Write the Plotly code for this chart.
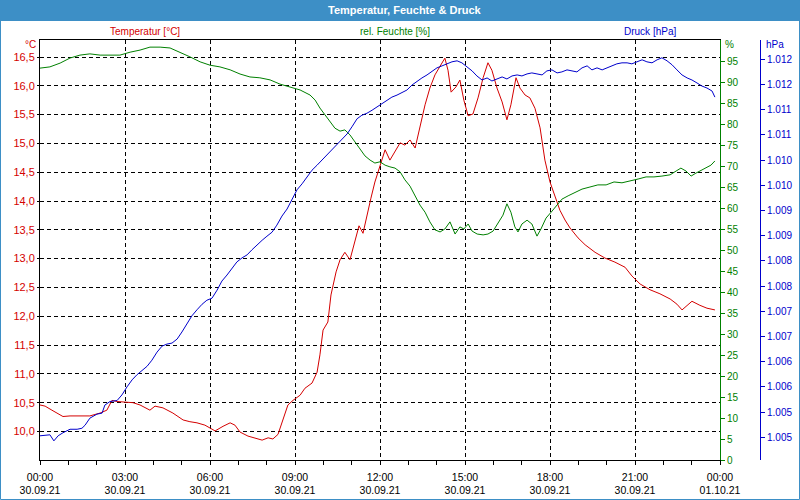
import plotly.graph_objects as go

# ---------------- data ----------------
# time in hours since 30.09.21 00:00
temp_t = [0, 0.18, 0.42, 0.64, 0.81, 1.06, 1.41, 1.76, 2.12, 2.36, 2.54, 2.72, 3.0, 3.28, 3.53, 3.78, 3.88,
          4.06, 4.34, 4.69, 5.05, 5.29, 5.54, 5.82, 6.0, 6.18, 6.46, 6.71, 6.88, 7.06, 7.34, 7.59, 7.84,
          8.05, 8.22, 8.40, 8.58, 8.75, 8.93, 9.18, 9.35, 9.60, 9.78, 9.88, 9.99, 10.16, 10.27, 10.45,
          10.59, 10.76, 10.94, 11.12, 11.26, 11.40, 11.54, 11.68, 11.82, 12.0, 12.18, 12.35, 12.53, 12.71,
          12.88, 13.06, 13.24, 13.41, 13.59, 13.76, 13.94, 14.12, 14.29, 14.40, 14.51, 14.68, 14.82, 14.96,
          15.11, 15.28, 15.46, 15.64, 15.81, 15.95, 16.13, 16.31, 16.48, 16.62, 16.80, 16.94, 17.12, 17.29,
          17.47, 17.65, 17.82, 18.0, 18.18, 18.35, 18.53, 18.71, 18.99, 19.24, 19.59, 19.94, 20.29, 20.65,
          20.89, 21.18, 21.53, 21.88, 22.24, 22.48, 22.66, 22.84, 23.01, 23.29, 23.54, 23.82]
temp_v = [10.46, 10.44, 10.37, 10.30, 10.26, 10.27, 10.27, 10.27, 10.32, 10.37, 10.54, 10.52, 10.51, 10.50,
          10.46, 10.39, 10.37, 10.44, 10.41, 10.32, 10.20, 10.17, 10.15, 10.11, 10.06, 10.01, 10.09, 10.15,
          10.11, 9.99, 9.92, 9.89, 9.85, 9.89, 9.87, 9.95, 10.20, 10.46, 10.54, 10.63, 10.75, 10.84, 11.03,
          11.33, 11.76, 11.90, 12.37, 12.77, 12.98, 13.11, 12.98, 13.32, 13.57, 13.44, 13.76, 14.05, 14.33,
          14.62, 14.89, 14.71, 14.85, 15.01, 14.97, 15.06, 14.92, 15.27, 15.67, 15.96, 16.19, 16.34, 16.48,
          16.27, 15.89, 15.98, 16.10, 15.75, 15.48, 15.51, 15.79, 16.14, 16.40, 16.27, 15.96, 15.72, 15.41,
          15.67, 16.14, 15.96, 15.84, 15.79, 15.61, 15.27, 14.71, 14.33, 14.07, 13.84, 13.67, 13.53, 13.36,
          13.24, 13.11, 13.01, 12.94, 12.85, 12.70, 12.56, 12.46, 12.39, 12.30, 12.21, 12.11, 12.19, 12.26,
          12.19, 12.14, 12.11]

hum_t = [0, 0.35, 0.71, 1.06, 1.41, 1.76, 2.12, 2.47, 2.82, 3.18, 3.53, 3.88, 4.24, 4.59, 4.94, 5.29, 5.65,
         6.0, 6.35, 6.71, 7.06, 7.41, 7.76, 8.12, 8.47, 8.82, 9.18, 9.53, 9.71, 9.88, 10.06, 10.24, 10.41,
         10.59, 10.76, 10.94, 11.12, 11.29, 11.47, 11.65, 11.82, 12.0, 12.18, 12.35, 12.53, 12.71, 12.88,
         13.06, 13.24, 13.41, 13.59, 13.76, 13.94, 14.12, 14.29, 14.47, 14.65, 14.82, 14.96, 15.11, 15.25,
         15.43, 15.64, 15.81, 15.99, 16.16, 16.34, 16.48, 16.62, 16.76, 16.87, 17.01, 17.19, 17.36, 17.54,
         17.68, 17.86, 18.04, 18.21, 18.42, 18.64, 18.88, 19.13, 19.41, 19.69, 19.98, 20.26, 20.54, 20.82,
         21.11, 21.39, 21.67, 21.95, 22.24, 22.45, 22.62, 22.80, 22.98, 23.15, 23.33, 23.51, 23.68, 23.82]
hum_v = [93.3, 93.6, 94.5, 95.7, 96.4, 96.7, 96.4, 96.4, 96.4, 97.1, 97.6, 98.3, 98.3, 98.1, 97.1, 96.0,
         94.8, 94.0, 93.6, 92.9, 91.9, 91.2, 91.0, 90.5, 89.5, 88.8, 88.1, 86.9, 85.7, 83.8, 82.1, 80.5,
         79.0, 78.3, 78.6, 77.4, 75.7, 73.8, 72.4, 71.4, 70.7, 71.0, 70.2, 69.8, 69.5, 68.6, 66.7, 65.2,
         62.9, 60.7, 59.0, 56.7, 54.8, 54.3, 55.0, 56.7, 53.8, 55.5, 55.0, 56.2, 54.5, 53.8, 53.6, 53.8,
         54.5, 56.2, 58.3, 61.0, 59.0, 55.5, 54.3, 56.2, 57.1, 56.2, 53.3, 55.0, 57.6, 59.0, 60.5, 62.1,
         62.9, 63.6, 64.5, 65.0, 65.5, 65.5, 66.2, 66.0, 66.4, 66.9, 67.4, 67.4, 67.6, 67.9, 68.8, 69.5,
         68.8, 67.6, 68.3, 69.0, 69.5, 70.2, 71.2]

pres_t = [0, 0.18, 0.35, 0.49, 0.64, 0.81, 0.95, 1.06, 1.31, 1.48, 1.59, 1.76, 2.01, 2.19, 2.29, 2.47, 2.72,
          2.89, 3.07, 3.25, 3.42, 3.60, 3.78, 3.95, 4.13, 4.31, 4.48, 4.66, 4.84, 5.01, 5.19, 5.36, 5.54,
          5.72, 5.89, 6.07, 6.25, 6.42, 6.60, 6.78, 6.95, 7.13, 7.31, 7.48, 7.66, 7.84, 8.01, 8.19, 8.36,
          8.54, 8.72, 8.89, 9.07, 9.25, 9.42, 9.60, 9.78, 9.95, 10.13, 10.31, 10.48, 10.66, 10.84, 11.01,
          11.19, 11.36, 11.54, 11.72, 11.89, 12.07, 12.25, 12.42, 12.60, 12.78, 12.95, 13.13, 13.31, 13.48,
          13.66, 13.84, 14.01, 14.19, 14.36, 14.54, 14.72, 14.89, 15.07, 15.25, 15.42, 15.60, 15.78, 15.95,
          16.13, 16.31, 16.48, 16.66, 16.84, 17.01, 17.19, 17.36, 17.54, 17.72, 17.89, 18.07, 18.25, 18.42,
          18.60, 18.78, 18.95, 19.13, 19.31, 19.48, 19.66, 19.84, 20.01, 20.19, 20.36, 20.54, 20.72, 20.89,
          21.07, 21.25, 21.42, 21.60, 21.78, 21.95, 22.13, 22.31, 22.48, 22.66, 22.84, 23.01, 23.19, 23.36,
          23.54, 23.72, 23.82]
pres_v = [1004.53, 1004.54, 1004.55, 1004.43, 1004.53, 1004.59, 1004.63, 1004.66, 1004.66, 1004.68, 1004.74,
          1004.88, 1004.96, 1004.98, 1005.14, 1005.21, 1005.23, 1005.34, 1005.50, 1005.64, 1005.74, 1005.82,
          1005.91, 1006.03, 1006.19, 1006.31, 1006.35, 1006.37, 1006.45, 1006.59, 1006.77, 1006.91, 1007.03,
          1007.14, 1007.22, 1007.26, 1007.42, 1007.60, 1007.72, 1007.86, 1007.98, 1008.06, 1008.12, 1008.22,
          1008.32, 1008.41, 1008.49, 1008.57, 1008.71, 1008.89, 1009.03, 1009.21, 1009.41, 1009.53, 1009.66,
          1009.80, 1009.90, 1010.00, 1010.10, 1010.20, 1010.30, 1010.40, 1010.52, 1010.66, 1010.82, 1010.89,
          1010.93, 1010.99, 1011.05, 1011.13, 1011.19, 1011.25, 1011.29, 1011.35, 1011.39, 1011.49, 1011.57,
          1011.63, 1011.69, 1011.77, 1011.83, 1011.87, 1011.91, 1011.95, 1011.97, 1011.93, 1011.85, 1011.77,
          1011.67, 1011.59, 1011.63, 1011.57, 1011.61, 1011.65, 1011.61, 1011.67, 1011.69, 1011.67, 1011.71,
          1011.73, 1011.71, 1011.69, 1011.77, 1011.79, 1011.73, 1011.75, 1011.79, 1011.77, 1011.75, 1011.83,
          1011.87, 1011.79, 1011.83, 1011.79, 1011.83, 1011.87, 1011.91, 1011.93, 1011.93, 1011.91, 1011.95,
          1011.99, 1011.95, 1011.93, 1011.99, 1012.03, 1011.97, 1011.89, 1011.79, 1011.69, 1011.63, 1011.59,
          1011.53, 1011.47, 1011.43, 1011.37, 1011.25]

x_tickvals = [0, 3, 6, 9, 12, 15, 18, 21, 24]
x_ticktext = ["00:00<br>30.09.21", "03:00<br>30.09.21", "06:00<br>30.09.21", "09:00<br>30.09.21",
              "12:00<br>30.09.21", "15:00<br>30.09.21", "18:00<br>30.09.21", "21:00<br>30.09.21",
              "00:00<br>01.10.21"]
temp_ticks = [10.0, 10.5, 11.0, 11.5, 12.0, 12.5, 13.0, 13.5, 14.0, 14.5, 15.0, 15.5, 16.0, 16.5]
hum_ticks = [0, 5, 10, 15, 20, 25, 30, 35, 40, 45, 50, 55, 60, 65, 70, 75, 80, 85, 90, 95]
pres_ticks = [1004.5, 1005.0, 1005.5, 1006.0, 1006.5, 1007.0, 1007.5, 1008.0, 1008.5, 1009.0,
              1009.5, 1010.0, 1010.5, 1011.0, 1011.5, 1012.0]

title = "Temperatur, Feuchte & Druck"
series_names = ["Temperatur [°C]", "rel. Feuchte [%]", "Druck [hPa]"]
unit_labels = ["°C", "%", "hPa"]

RED = "#d40000"
GREEN = "#008000"
BLUE = "#0000cc"
BAR = "#3d8fc6"
FONT = "Liberation Sans, Arial, sans-serif"

W, H = 800, 500
ML, MR, MT, MB = 40, 40, 40, 40
PW = W - ML - MR
PH = H - MT - MB
XDOM = 680 / PW


def px(x):
    return (x - ML) / PW


def py(y):
    return (H - MB - y) / PH


fig = go.Figure()
fig.add_trace(go.Scatter(x=temp_t, y=temp_v, mode="lines", line=dict(color=RED, width=1),
                         yaxis="y", showlegend=False))
fig.add_trace(go.Scatter(x=hum_t, y=hum_v, mode="lines", line=dict(color=GREEN, width=1),
                         yaxis="y2", showlegend=False))
fig.add_trace(go.Scatter(x=pres_t, y=pres_v, mode="lines", line=dict(color=BLUE, width=1),
                         yaxis="y3", showlegend=False))

fig.update_layout(
    width=W, height=H,
    margin=dict(l=ML, r=MR, t=MT, b=MB, autoexpand=False),
    paper_bgcolor="white", plot_bgcolor="white",
    separators=",.",
    font=dict(family=FONT, size=10, color="black"),
    xaxis=dict(domain=[0, XDOM], range=[0, 24], tickvals=x_tickvals, ticktext=x_ticktext,
               automargin=False,
               showline=True, linecolor="black", linewidth=1, mirror=True,
               ticks="outside", ticklen=4, tickcolor="black", ticklabelstandoff=3,
               minor=dict(dtick=1, tick0=0, ticks="outside", ticklen=4, tickcolor="black", showgrid=False),
               showgrid=True, gridcolor="black", gridwidth=1, griddash="4px,3px",
               zeroline=False, tickfont=dict(size=10.5, color="black")),
    yaxis=dict(range=[9.505, 16.795], tickvals=temp_ticks, tickformat=".1f", automargin=False,
               showline=True, linecolor="black", linewidth=1,
               ticks="outside", ticklen=2, tickcolor="black",
               showgrid=True, gridcolor="black", gridwidth=1, griddash="4px,3px",
               zeroline=False, tickfont=dict(size=11, color=RED)),
    yaxis2=dict(range=[0, 100], tickvals=hum_ticks, overlaying="y", side="right", anchor="x",
                automargin=False,
                showline=True, linecolor=GREEN, linewidth=1,
                ticks="outside", ticklen=4, tickcolor=GREEN,
                showgrid=False, zeroline=False, tickfont=dict(size=10, color=GREEN)),
    yaxis3=dict(range=[1004.05, 1012.383], tickvals=pres_ticks, tickformat=",.0f",
                overlaying="y", side="right", anchor="free", position=1.0, automargin=False,
                showline=True, linecolor=BLUE, linewidth=1,
                ticks="outside", ticklen=4, tickcolor=BLUE,
                showgrid=False, zeroline=False, tickfont=dict(size=10, color=BLUE)),
)

# title bar and frame
fig.add_shape(type="rect", xref="paper", yref="paper", x0=px(0), x1=px(800), y0=py(21), y1=py(0),
              fillcolor=BAR, line=dict(width=0), layer="below")
fig.add_shape(type="rect", xref="paper", yref="paper", x0=px(0.5), x1=px(799.5), y0=py(499.5), y1=py(0.5),
              fillcolor="rgba(0,0,0,0)", line=dict(color=BAR, width=1))

fig.add_annotation(text="<b>" + title + "</b>", xref="paper", yref="paper", x=px(404), y=py(10),
                   showarrow=False, xanchor="center", yanchor="middle",
                   font=dict(family=FONT, size=11, color="white"))

for name, col, cx in zip(series_names, [RED, GREEN, BLUE], [145, 395, 650]):
    fig.add_annotation(text=name, xref="paper", yref="paper", x=px(cx), y=py(31), showarrow=False,
                       xanchor="center", yanchor="middle", font=dict(family=FONT, size=10, color=col))

fig.add_annotation(text=unit_labels[0], xref="paper", yref="paper", x=px(38), y=py(45), showarrow=False,
                   xanchor="right", yanchor="middle", font=dict(family=FONT, size=10, color=RED))
fig.add_annotation(text=unit_labels[1], xref="paper", yref="paper", x=px(723), y=py(45), showarrow=False,
                   xanchor="left", yanchor="middle", font=dict(family=FONT, size=10, color=GREEN))
fig.add_annotation(text=unit_labels[2], xref="paper", yref="paper", x=px(764), y=py(45), showarrow=False,
                   xanchor="left", yanchor="middle", font=dict(family=FONT, size=10, color=BLUE))

fig.write_html("out.html")
